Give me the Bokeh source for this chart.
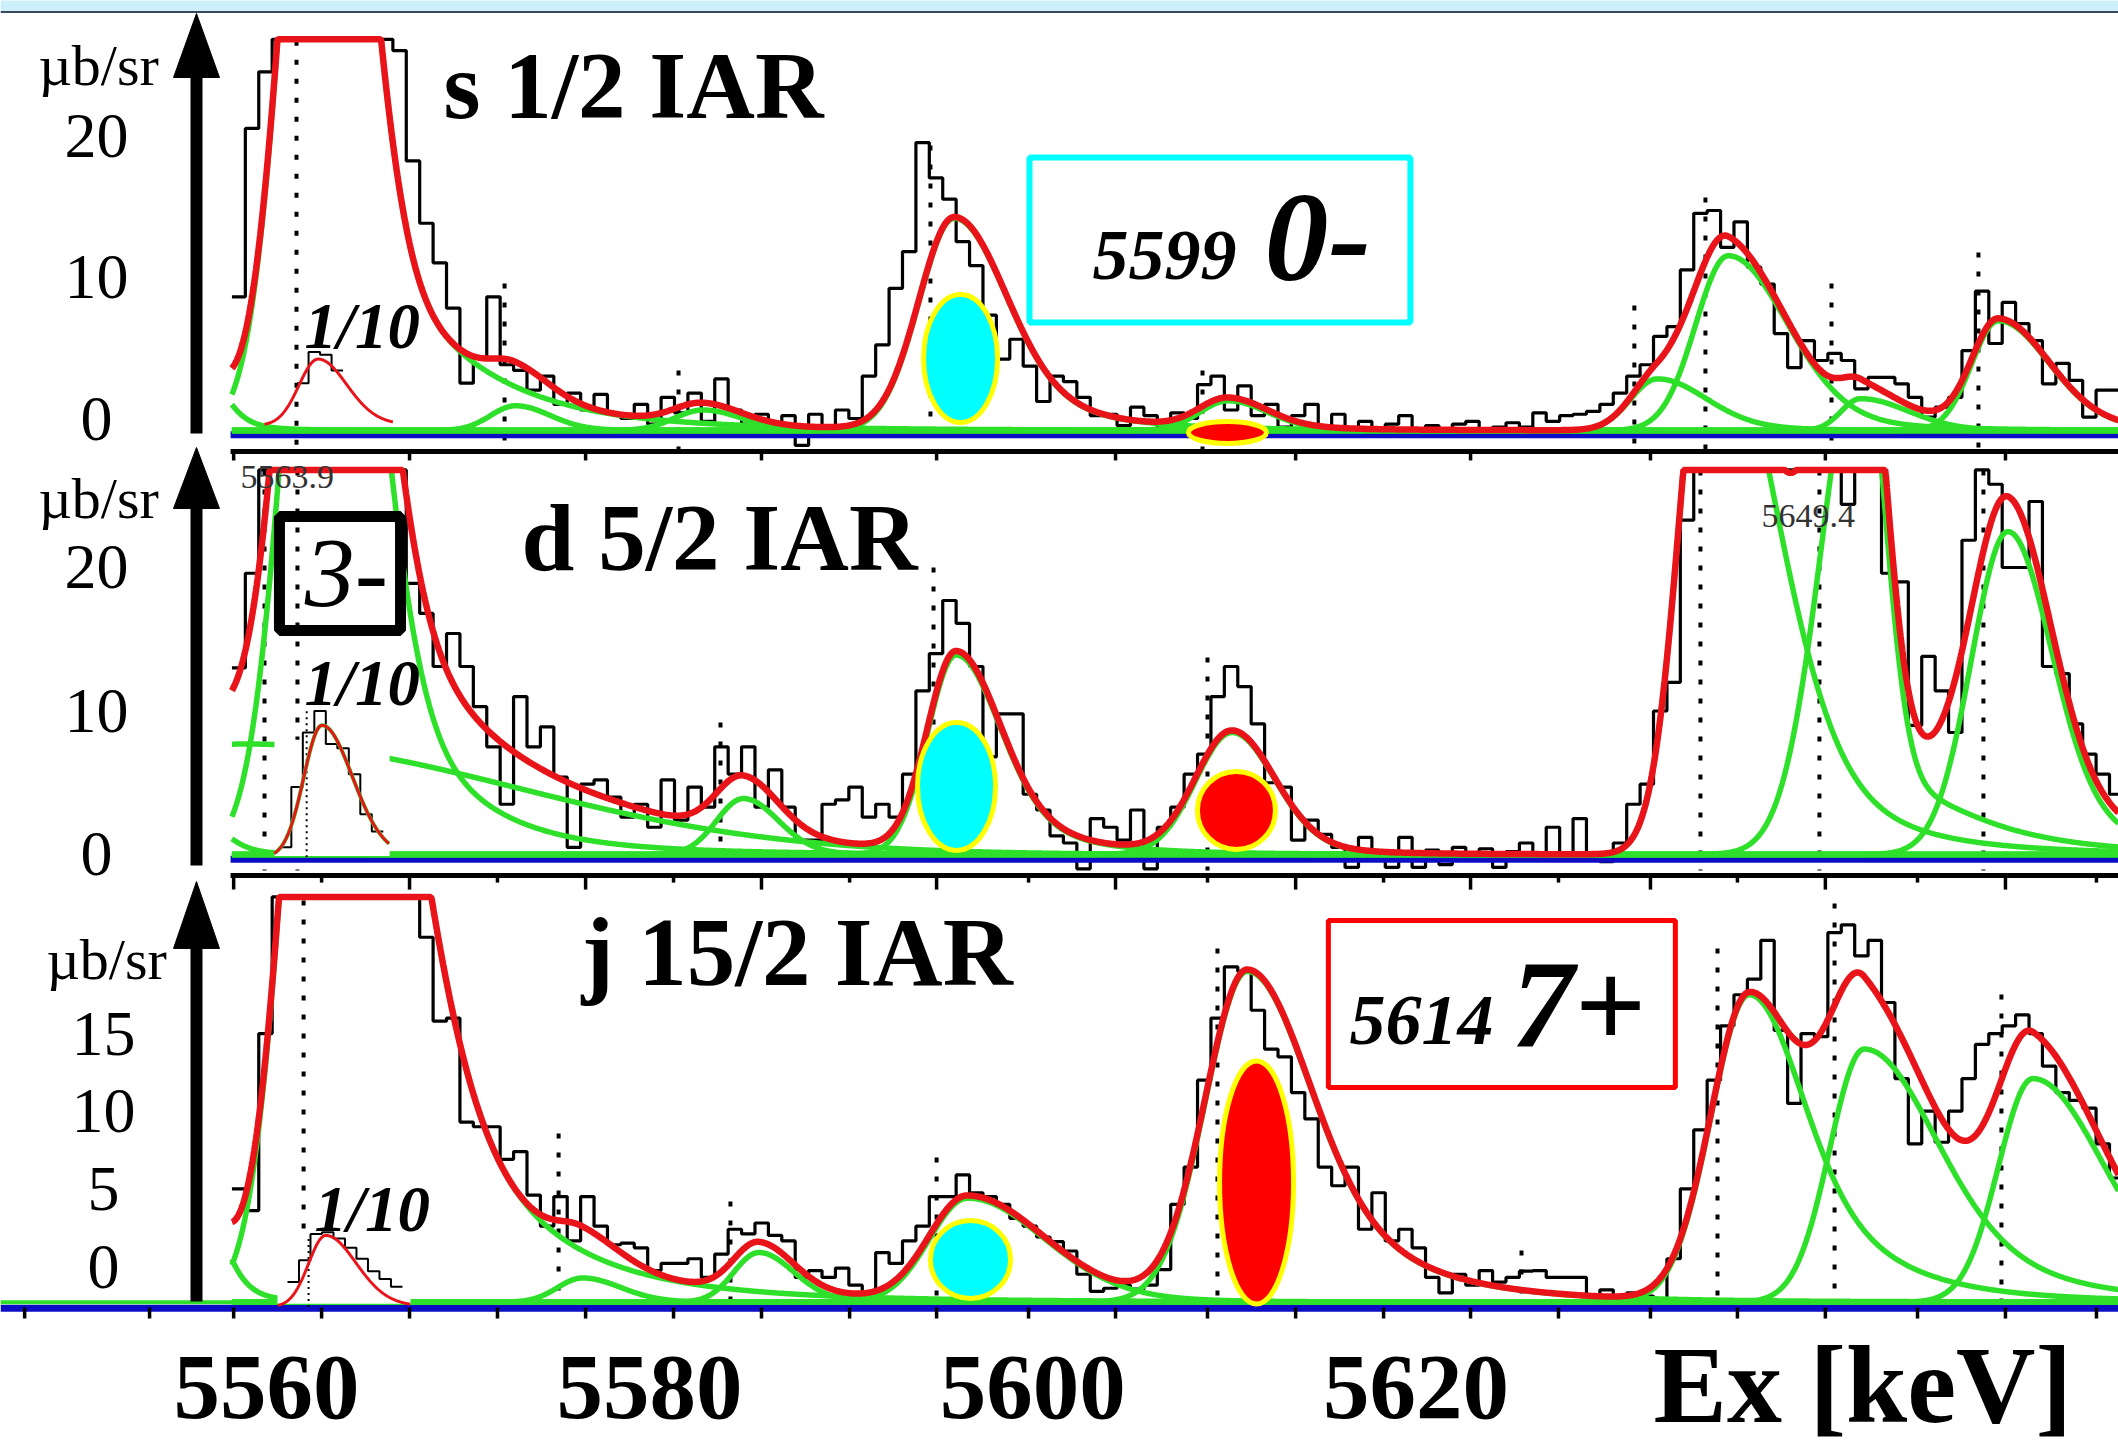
import numpy as np
from bokeh.plotting import figure
from bokeh.models import Range1d
from bokeh.core.properties import value
from bokeh.embed import file_html
from bokeh.resources import INLINE

FONT = value("Liberation Serif")
RED = "#e8141a"
GREEN = "#2fe02a"
BLUE = "#0c0cc4"
CYAN = "#00ffff"
YELLOW = "#ffff00"

# ---------------- data ----------------
X_MIN, X_MAX = 5546.12, 5656.67
BIN_START, BIN_WIDTH = 5558.2, 0.7
CURVE_START = 5558.2
LINE_START = 5558.13

x_labels = [5560, 5580, 5600, 5620]
y_ticks_s12 = [0, 10, 20]
y_ticks_d52 = [0, 10, 20]
y_ticks_j152 = [0, 5, 10, 15]

major_ticks = [5558.29, 5567.47, 5576.66, 5585.84, 5594.98, 5604.32, 5613.72,
               5622.85, 5632.24, 5641.37, 5650.77]
minor_ticks = [5562.88, 5572.06, 5581.25, 5590.44, 5599.78, 5609.12, 5618.31,
               5627.44, 5636.78, 5646.18, 5655.52]
extra_ticks = [5547.38, 5553.90]

# histogram counts (µb/sr), bins of 0.7 keV from 5558.2 keV
hist_s12 = [8.6, 20.5, 24.5,
            35, 40, 45, 48, 50, 48, 45, 40, 33,
            26.0, 18.2, 13.8, 11.0, 7.8, 2.5, 4.3, 8.6,
            3.8, 3.4, 2.0, 3.0, 1.0, 1.8, 0.6, 1.7, 0.3, 0.0,
            1.0, -0.4, 1.5, 0.4, 1.8, -0.2, 2.8, 0.6, -0.4, 0.3,
            -0.5, 0.2, -1.9, 0.3, -0.8, 0.6, 0.0, 3.0, 5.2, 9.2,
            11.8, 19.5, 17.0, 15.5, 12.5, 10.8, 7.3, 4.2, 5.6, 3.7,
            1.2, 3.0, 2.6, 1.5, 0.2, 0.3, -0.5, 0.8, 0.2, -0.8,
            0.4, 0.0, 2.4, 3.0, 0.6, 2.3, 0.2, 1.0, -0.6, 0.2,
            1.0, -1.0, 0.3, -0.9, -0.2, -0.9, -0.4, 0.2, -1.0, -0.5,
            -1.2, -0.4, -0.2, -1.0, -0.6, -0.3, -0.6, 0.4, -0.2, 0.2,
            0.3, 0.5, 1.0, 1.8, 3.0, 3.8, 5.8, 6.5, 10.5, 14.5,
            14.7, 12.1, 13.9, 10.7, 9.5, 6.0, 3.6, 5.5, 4.1, 4.6,
            4.1, 2.1, 2.9, 2.9, 2.45, 1.5, 0.1, 0.8, 1.5, 4.8,
            9.0, 5.3, 8.2, 6.7, 5.5, 2.45, 3.9, 2.7, 0.1, 2.0, 2.0]
hist_d52 = [13.0, 19.6, 27.0,
            35, 42, 48, 52, 54, 52, 48, 42, 35, 30,
            18.9, 16.8, 13.1, 15.4, 13.1, 10.3, 7.5,
            3.5, 11.0, 7.5, 8.9, 5.4, 0.5, 4.9, 5.2, 4.0, 2.6,
            3.5, 1.9, 5.2, 2.4, 4.7, 3.3, 7.5, 5.6, 7.5, 3.3,
            5.9, 3.3, 1.0, 1.0, 3.5, 3.8, 4.7, 2.6, 3.5, 2.6,
            5.6, 11.4, 14.0, 17.7, 16.1, 13.1, 6.8, 9.8, 9.8, 4.2,
            3.1, 1.3, 0.8, -1.0, 2.5, 1.9, 1.0, 3.1, -1.0, 1.9,
            3.3, 5.6, 7.0, 11.0, 13.1, 11.7, 9.1, 5.0, 4.7, 1.0,
            2.4, 1.4, 0.5, -0.9, 1.2, 0.2, -0.9, 1.2, -0.9, 0.3,
            -0.7, 0.5, -0.3, 0.4, -0.9, 0.2, 0.8, -0.4, 1.9, -0.2,
            2.5, 0.0, -0.5, 0.8, 3.5, 4.9, 10.0, 12.0, 23.3, 35,
            45, 55, 60, 58, 52, 48, 45, 40, 35, 30,
            24.4, 30, 28, 19.6, 19.0, 9.0, 13.8, 11.4, 8.5, 21.9,
            26.8, 25.8, 20.0, 20.0, 24.6, 13.1, 12.6, 9.1, 7.0, 5.6, 4.2]
hist_j152 = [5.0, 3.6, 15.0,
             35, 45, 52, 56, 57, 55, 50, 45, 38, 32, 28,
             21.2, 15.8, 16.0, 9.3, 9.0, 9.0,
             6.9, 7.4, 4.6, 2.6, 4.5, 1.65, 4.5, 2.6, 1.4, 1.5,
             1.2, -0.26, 0.2, 0.2, 0.5, -0.7, 0.8, 2.4, 2.1, 2.8,
             2.0, 1.65, -0.7, -0.26, -0.7, -0.1, -1.2, -2.2, 0.9, 0.2,
             1.65, 2.6, 4.5, 4.5, 5.9, 4.75, 4.5, 4.0, 3.1, 2.6,
             1.9, 1.6, 1.0, -0.5, -1.6, -1.4, -1.2, -1.45, -1.2, -0.2,
             4.0, 6.4, 12.0, 16.0, 19.3, 19.0, 16.5, 14.0, 13.5, 11.2,
             9.5, 6.4, 5.2, 6.4, 2.4, 4.75, 1.65, 2.4, 1.2, -0.7,
             -1.7, -0.5, -1.2, -0.26, -1.0, -0.7, -0.3, -0.26, -0.7, -0.7,
             -0.7, -1.9, -1.5, -2.2, -1.7, -1.9, -2.1, 0.5, 5.0, 8.8,
             12.0, 15.5, 17.5, 18.5, 21.0, 15.2, 10.5, 15.0, 14.8, 21.5,
             22.0, 20.0, 21.0, 17.0, 12.1, 7.9, 10.0, 8.0, 10.0, 12.1,
             14.3, 15.0, 15.5, 16.2, 15.0, 12.9, 11.2, 10.7, 10.2, 7.9, 5.7]

# fit components: centre keV, height, sigma left, sigma right, tail fraction, tail width
comp_s12 = [(5555.5, 8.0, 1.0, 1.5, 0.3, 3.0),
            (5563.0, 62.0, 1.9, 2.05, 0.2, 10.0),
            (5573.0, 1.75, 1.3, 1.8, 0.1, 4.0),
            (5582.8, 1.45, 1.5, 2.0, 0.1, 4.0),
            (5595.9, 15.0, 1.85, 2.6, 0.25, 8.0),
            (5610.2, 2.1, 1.5, 2.0, 0.2, 5.0),
            (5632.6, 3.65, 1.4, 2.5, 0.2, 6.0),
            (5636.3, 12.35, 1.7, 3.0, 0.15, 8.0),
            (5643.2, 2.25, 1.0, 2.5, 0.1, 5.0),
            (5650.4, 7.75, 1.4, 2.6, 0.2, 6.0)]
comp_d52 = [(5556.0, 3.0, 1.0, 1.5, 0.3, 3.0),
            (5559.0, 7.7, 14.0, 14.0, 0.0, 1.0),
            (5563.2, 60.0, 2.0, 2.3, 0.25, 8.0),
            (5584.9, 3.9, 1.4, 1.8, 0.1, 4.0),
            (5596.0, 13.9, 1.5, 2.2, 0.25, 7.0),
            (5610.4, 8.5, 1.9, 2.2, 0.2, 5.0),
            (5635.3, 40.0, 1.5, 3.2, 0.35, 8.0),
            (5643.3, 36.0, 2.1, 1.2, 0.15, 9.0),
            (5650.9, 22.5, 1.9, 2.2, 0.2, 7.0)]
comp_j152 = [(5555.5, 12.0, 1.0, 1.5, 0.3, 3.0),
             (5563.3, 62.0, 2.0, 3.4, 0.4, 10.0),
             (5576.5, 1.56, 1.3, 2.0, 0.1, 4.0),
             (5585.7, 3.2, 1.3, 1.8, 0.15, 4.0),
             (5596.6, 6.7, 2.0, 4.0, 0.2, 8.0),
             (5611.2, 21.3, 2.2, 3.0, 0.45, 9.0),
             (5637.4, 19.8, 2.0, 2.5, 0.5, 8.0),
             (5643.4, 16.3, 1.8, 3.5, 0.5, 9.0),
             (5652.2, 14.4, 1.8, 3.5, 0.4, 8.0)]
bg_s12, bg_d52, bg_j152 = -0.85, 0.0, -2.3
cap_s12, cap_d52, cap_j152 = 26.8, 26.8, 23.8
blue_s12, blue_d52, blue_j152 = -1.06, -0.28, -2.64

# 1/10 insets
inset_s12 = (5562.7, 4.7, 1.0, 1.5, 0.2, 3.0)
inset_d52 = (5562.9, 9.2, 0.95, 1.6, 0.15, 3.0)
inset_j152 = (5563.1, 4.6, 0.9, 1.6, 0.2, 3.0)
inset_hist_s12 = [2.5, 4.7, 4.5, 3.4]
inset_hist_d52 = [0.5, 4.7, 8.5, 10.0, 7.7, 7.4, 5.6, 2.8, 1.6]
inset_hist_j152 = [-1.0, 0.4, 2.1, 2.2, 1.8, 1.2, 0.5, -0.3, -0.8, -1.3]

# dotted peak markers (keV, top value)
dots_s12_x = [5561.57, 5572.43, 5581.51, 5594.66, 5608.86, 5631.40, 5635.11, 5641.69, 5649.36]
dots_s12_top = [26.7, 9.54, 3.39, 19.29, 3.39, 7.99, 15.62, 9.54, 11.73]
dots_d52_x = [5559.90, 5561.62, 5583.70, 5594.82, 5609.12, 5634.85, 5641.06, 5649.62]
dots_d52_top = [26.76, 26.76, 9.2, 20.0, 13.73, 26.76, 26.76, 26.76]
dots_j152_x = [5561.94, 5575.25, 5584.22, 5594.98, 5609.64, 5625.51, 5635.74, 5641.85, 5650.56]
dots_j152_top = [23.57, 8.56, 4.19, 7.02, 20.48, 1.03, 20.48, 23.37, 17.51]

# marked states (ellipses): x, y, width keV, height
cyan_marks = {"s": (5596.23, 4.24, 3.86, 9.05), "d": (5596.02, 4.74, 4.07, 8.92), "j": (5596.75, 0.45, 4.18, 5.02)}
red_marks = {"s": (5610.16, -0.99, 4.07, 1.55), "d": (5610.63, 3.07, 4.07, 5.44), "j": (5611.68, 5.41, 3.86, 15.65)}

ARROW_X = 5556.35
x_fit = np.linspace(CURVE_START, X_MAX, 2200)


def comp_curve(x, c, a, sl, sr, eta, w):
    d = x - c
    left = np.exp(-0.5 * (d / sl) ** 2)
    right = (1 - eta) * np.exp(-0.5 * (d / sr) ** 2) + eta / (1 + (d / w) ** 2) ** 2
    return a * np.where(d < 0, left, right)


# one canvas, three stacked value scales (one per spectrum)
p = figure(width=2118, height=1451, x_range=Range1d(X_MIN, X_MAX), y_range=Range1d(-11.912, 81.52),
           output_backend="svg", toolbar_location=None, x_axis_location=None,
           y_axis_location=None, min_border=0, outline_line_color=None,
           background_fill_color="white", border_fill_color="white")
p.extra_y_ranges = {"s12": Range1d(-73.004, 29.541), "d52": Range1d(-41.603, 59.512)}
p.grid.visible = False


def txt(yr, x, y, s, size, style="normal", align="left", color="black"):
    p.text(x=[x], y=[y], text=[s], text_font=FONT, text_font_size=f"{size}px",
           text_font_style=style, text_align=align, text_baseline="middle", text_color=color,
           y_range_name=yr)


def draw_dots(yr, xs, tops, bottom):
    p.segment(x0=xs, y0=tops, x1=xs, y1=[bottom] * len(xs), line_color="black",
              line_width=4, line_dash="5 14", y_range_name=yr)


def draw_hist(yr, start, width, vals, cap, lw=3.2):
    v = np.minimum(np.array(vals, dtype=float), cap)
    edges = start + width * np.arange(len(v) + 1)
    p.step(edges, np.append(v, v[-1]), mode="after", line_color="black", line_width=lw,
           y_range_name=yr)


def draw_fit(yr, comps, bg, cap, x):
    total = np.full_like(x, bg)
    for c in comps:
        y = comp_curve(x, *c)
        total = total + y
        p.line(x, np.minimum(bg + y, cap), line_color=GREEN, line_width=5.5, y_range_name=yr)
    p.line(x, np.minimum(total, cap), line_color=RED, line_width=6.5, y_range_name=yr)


def draw_inset(yr, comp, base, lo, hi, hist, hist_start, with_green):
    xi = np.linspace(lo, hi, 300)
    yi = base + comp_curve(xi, *comp)
    if hist is not None:
        draw_hist(yr, hist_start, 0.6, hist, 99, lw=2)
    if with_green:
        p.line(xi, yi, line_color=GREEN, line_width=4, y_range_name=yr)
    p.line(xi, yi, line_color=RED, line_width=3, y_range_name=yr)


def draw_arrow(yr, bottom, base, tip):
    p.segment(x0=[ARROW_X], y0=[bottom], x1=[ARROW_X], y1=[base + 0.3], line_color="black",
              line_width=12, y_range_name=yr)
    p.patch(x=[ARROW_X - 1.2, ARROW_X, ARROW_X + 1.2], y=[base, tip, base], fill_color="black",
            line_color="black", line_width=1, y_range_name=yr)


def draw_ylabels(yr, ticks, xpos, unit_y, unit_x):
    p.text(x=[xpos] * len(ticks), y=ticks, text=[str(t) for t in ticks], text_font=FONT,
           text_font_size="64px", text_align="center", text_baseline="middle",
           text_color="black", y_range_name=yr)
    txt(yr, unit_x, unit_y, "µb/sr", 58, align="center")


def draw_marks(yr, key):
    cx, cy, w, h = cyan_marks[key]
    p.ellipse(x=[cx], y=[cy], width=[w], height=[h], fill_color=CYAN, line_color=YELLOW,
              line_width=5, y_range_name=yr)
    rx, ry, rw, rh = red_marks[key]
    p.ellipse(x=[rx], y=[ry], width=[rw], height=[rh], fill_color="#ff0000", line_color=YELLOW,
              line_width=5, y_range_name=yr)


# ---------------- panel 1 : s 1/2 IAR ----------------
Y1 = "s12"
draw_dots(Y1, dots_s12_x, dots_s12_top, -2.3)
draw_hist(Y1, BIN_START, BIN_WIDTH, hist_s12, cap_s12)
p.line([LINE_START, X_MAX], [blue_s12 - 0.08, blue_s12 - 0.08], line_color=BLUE, line_width=7,
       y_range_name=Y1)
draw_fit(Y1, comp_s12, bg_s12, cap_s12, x_fit)
draw_inset(Y1, inset_s12, -0.5, 5559.9, 5566.6, inset_hist_s12, 5561.6, False)
draw_marks(Y1, "s")
p.quad(left=[5599.83], right=[5619.71], top=[18.45], bottom=[6.78], fill_color="white",
       line_color=CYAN, line_width=6, y_range_name=Y1)
txt(Y1, 5603.12, 11.52, "5599", 72, "bold italic")
txt(Y1, 5612.1, 12.76, "0-", 128, "bold italic")
txt(Y1, 5569.24, 23.5, "s 1/2 IAR", 95, "bold")
txt(Y1, 5561.99, 6.54, "1/10", 65, "bold italic")
p.quad(left=[X_MIN], right=[X_MAX], top=[29.7], bottom=[28.73], fill_color="#cdeefb",
       line_color=None, y_range_name=Y1)
p.line([X_MIN, X_MAX], [28.73, 28.73], line_color="#3a4a5a", line_width=2, y_range_name=Y1)
draw_arrow(Y1, blue_s12, 24.10, 28.62)
draw_ylabels(Y1, y_ticks_s12, 5551.13, 24.95, 5551.24)

# ---------------- panel 2 : d 5/2 IAR ----------------
Y2 = "d52"
draw_dots(Y2, dots_d52_x, dots_d52_top, -1.115)
draw_hist(Y2, BIN_START, BIN_WIDTH, hist_d52, cap_d52)
p.line([LINE_START, X_MAX], [blue_d52 - 0.05, blue_d52 - 0.05], line_color=BLUE, line_width=7,
       y_range_name=Y2)
draw_fit(Y2, comp_d52, bg_d52, cap_d52, x_fit)
p.quad(left=[5560.42], right=[5566.43], top=[8.0], bottom=[-0.1], fill_color="white",
       line_color=None, y_range_name=Y2)
p.segment(x0=[5562.1], y0=[-0.2], x1=[5562.1], y1=[10.0], line_color="black", line_width=2,
          line_dash="2 4", y_range_name=Y2)
draw_inset(Y2, inset_d52, -0.2, 5560.4, 5566.4, inset_hist_d52, 5560.7, True)
draw_marks(Y2, "d")
p.quad(left=[5560.68], right=[5567.0], top=[23.55], bottom=[15.61], fill_color=None,
       line_color="black", line_width=11, y_range_name=Y2)
txt(Y2, 5564.18, 19.55, "3-", 100, "italic", align="center")
txt(Y2, 5558.65, 26.34, "5563.9", 34, color="#333333")
txt(Y2, 5638.03, 23.62, "5649.4", 34, color="#333333")
txt(Y2, 5573.32, 22.06, "d 5/2 IAR", 95, "bold")
txt(Y2, 5561.99, 11.95, "1/10", 65, "bold italic")
p.line([LINE_START, X_MAX], [28.08, 28.08], line_color="black", line_width=5, y_range_name=Y2)
p.segment(x0=major_ticks, y0=[28.08] * len(major_ticks), x1=major_ticks,
          y1=[27.46] * len(major_ticks), line_color="black", line_width=3.5, y_range_name=Y2)
draw_arrow(Y2, -0.77, 24.11, 28.36)
draw_ylabels(Y2, y_ticks_d52, 5551.13, 24.81, 5551.24)

# ---------------- panel 3 : j 15/2 IAR ----------------
Y3 = "default"
draw_dots(Y3, dots_j152_x, dots_j152_top, blue_j152)
draw_hist(Y3, BIN_START, BIN_WIDTH, hist_j152, cap_j152)
p.line([X_MIN, X_MAX], [blue_j152 - 0.05, blue_j152 - 0.05], line_color=BLUE, line_width=7)
p.line([X_MIN, CURVE_START], [bg_j152, bg_j152], line_color=GREEN, line_width=4)
draw_fit(Y3, comp_j152, bg_j152, cap_j152, x_fit)
p.quad(left=[5560.58], right=[5567.52], top=[2.38], bottom=[-2.4], fill_color="white",
       line_color=None)
p.segment(x0=[5562.2], y0=[-2.6], x1=[5562.2], y1=[2.0], line_color="black", line_width=2,
          line_dash="2 4")
draw_inset(Y3, inset_j152, -2.6, 5560.6, 5567.5, inset_hist_j152, 5561.1, False)
draw_marks(Y3, "j")
p.quad(left=[5615.43], right=[5633.54], top=[22.28], bottom=[11.53], fill_color="white",
       line_color="#ff0000", line_width=5)
txt(Y3, 5616.53, 15.84, "5614", 72, "bold italic")
txt(Y3, 5624.99, 16.77, "7+", 125, "bold italic")
txt(Y3, 5576.45, 20.19, "j 15/2 IAR", 97, "bold")
txt(Y3, 5562.51, 3.73, "1/10", 65, "bold italic")
p.line([LINE_START, X_MAX], [25.18, 25.18], line_color="black", line_width=5)
p.segment(x0=major_ticks, y0=[25.18] * len(major_ticks), x1=major_ticks,
          y1=[24.27] * len(major_ticks), line_color="black", line_width=3.5)
p.segment(x0=minor_ticks, y0=[25.18] * len(minor_ticks), x1=minor_ticks,
          y1=[24.72] * len(minor_ticks), line_color="black", line_width=3.5)
all_ticks = extra_ticks + major_ticks + minor_ticks
p.segment(x0=all_ticks, y0=[blue_j152] * len(all_ticks), x1=all_ticks,
          y1=[-3.35] * len(all_ticks), line_color="black", line_width=3.5)
p.text(x=x_labels, y=[-7.76] * len(x_labels), text=[str(v) for v in x_labels], text_font=FONT,
       text_font_size="93px", text_font_style="bold", text_align="center",
       text_baseline="middle", text_color="black")
txt(Y3, 5632.4, -7.66, "Ex [keV]", 110, "bold")
draw_arrow(Y3, -2.25, 20.48, 24.79)
draw_ylabels(Y3, y_ticks_j152, 5551.5, 19.77, 5551.66)

open("out.html", "w").write(file_html(p, INLINE))
